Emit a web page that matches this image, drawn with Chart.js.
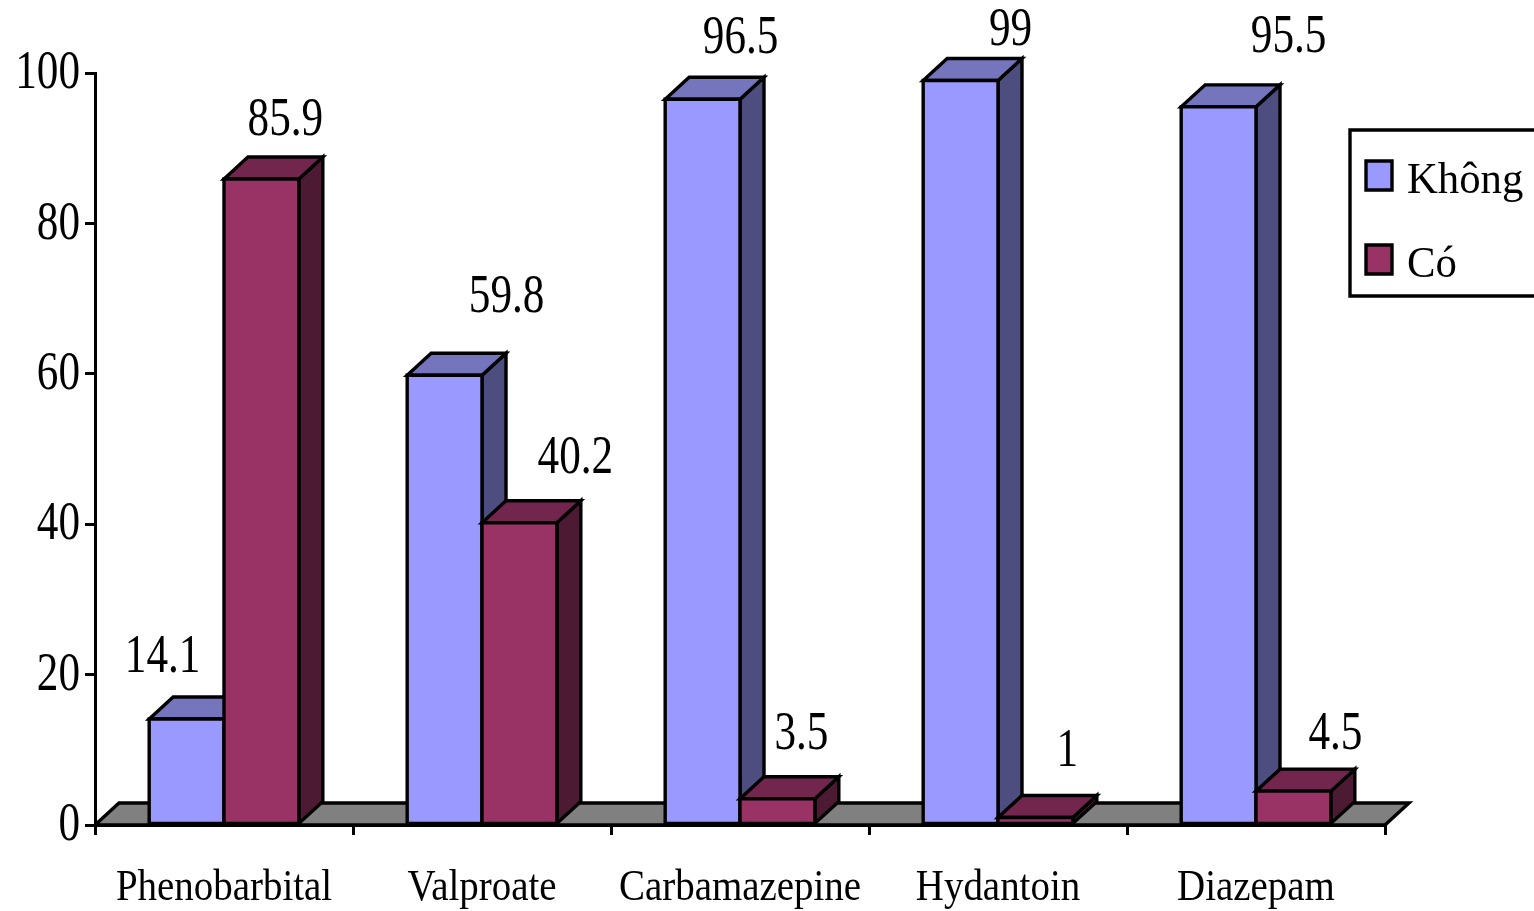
<!DOCTYPE html>
<html>
<head>
<meta charset="utf-8">
<title>Không / Có</title>
<script src="https://cdn.jsdelivr.net/npm/chart.js@4/dist/chart.umd.min.js"></script>
<style>
  html, body { margin: 0; padding: 0; background: #ffffff; }
  #wrap { width: 1534px; height: 911px; position: relative; overflow: hidden; }
</style>
</head>
<body>
<div id="wrap"><canvas id="chart" width="1534" height="911"></canvas></div>
<script>
// ---- data ----
const categories = ['Phenobarbital', 'Valproate', 'Carbamazepine', 'Hydantoin', 'Diazepam'];
const seriesNames = ['Không', 'Có'];
const khongValues = [14.1, 59.8, 96.5, 99, 95.5];
const coValues = [85.9, 40.2, 3.5, 1, 4.5];
const yTicks = [0, 20, 40, 60, 80, 100];

// ---- styling ----
const FONT = '"Liberation Serif", "Times New Roman", serif';
const DEPTH_X = 24;   // 3D depth offset (px) to the right
const DEPTH_Y = 22;   // 3D depth offset (px) upward
const EDGE = 3.4;     // outline width
const faceColors = [
  { front: '#9999ff', top: '#7575bd', side: '#4d4d80' },
  { front: '#993366', top: '#73264d', side: '#4d1a33' }
];
// narrow, tall lettering: font size and horizontal squeeze per text group
const TXT = {
  yTick:  { size: 54, sx: 0.80 },
  xTick:  { size: 45, sx: 0.865 },
  value:  { size: 54, sx: 0.80 },
  legend: { size: 45, sx: 0.95 }
};
// small per-label nudges (px) applied to the value labels
const labelShiftX = [[-48, 38, 14, 26, 46], [0, 32, 0, 8, 18]];
const labelShiftY = [[1, -15, 1, 12, -7], [4, -2, -2, -4, 6]];

function poly(ctx, pts, fill) {
  ctx.beginPath();
  ctx.moveTo(pts[0][0], pts[0][1]);
  for (let i = 1; i < pts.length; i++) ctx.lineTo(pts[i][0], pts[i][1]);
  ctx.closePath();
  ctx.fillStyle = fill;
  ctx.fill();
  ctx.stroke();
}

function squeezedText(ctx, text, x, y, style, align, baseline) {
  ctx.save();
  ctx.translate(x, y);
  ctx.scale(style.sx, 1);
  ctx.font = style.size + 'px ' + FONT;
  ctx.fillStyle = '#000';
  ctx.textAlign = align;
  ctx.textBaseline = baseline;
  ctx.fillText(text, 0, 0);
  ctx.restore();
}

// Draws the floor, the 3D bars (front, top and side faces), value labels, axis labels and legend
const bars3d = {
  id: 'bars3d',
  beforeDatasetDraw() { return false; },
  afterDatasetsDraw(chart) {
    const ctx = chart.ctx;
    const area = chart.chartArea;
    const yScale = chart.scales.y;
    const base = yScale.getPixelForValue(0);
    ctx.save();
    ctx.lineWidth = EDGE;
    ctx.strokeStyle = '#000';
    ctx.lineJoin = 'miter';

    // floor
    poly(ctx, [
      [area.left, base], [area.right, base],
      [area.right + DEPTH_X, base - DEPTH_Y], [area.left + DEPTH_X, base - DEPTH_Y]
    ], '#808080');

    const metas = chart.data.datasets.map((d, i) => chart.getDatasetMeta(i));
    for (let c = 0; c < categories.length; c++) {
      metas.forEach((meta, s) => {
        const el = meta.data[c];
        const p = el.getProps(['x', 'y', 'base', 'width'], true);
        const x0 = p.x - p.width / 2, x1 = p.x + p.width / 2;
        const yt = p.y, yb = p.base;
        const col = faceColors[s];
        // side face
        poly(ctx, [[x1, yb], [x1, yt], [x1 + DEPTH_X, yt - DEPTH_Y], [x1 + DEPTH_X, yb - DEPTH_Y]], col.side);
        // top face
        poly(ctx, [[x0, yt], [x1, yt], [x1 + DEPTH_X, yt - DEPTH_Y], [x0 + DEPTH_X, yt - DEPTH_Y]], col.top);
        // front face
        poly(ctx, [[x0, yb], [x0, yt], [x1, yt], [x1, yb]], col.front);
      });
    }

    // value labels
    metas.forEach((meta, s) => {
      const values = chart.data.datasets[s].data;
      meta.data.forEach((el, c) => {
        const p = el.getProps(['x', 'y'], true);
        const lx = p.x + DEPTH_X + labelShiftX[s][c];
        const ly = p.y - DEPTH_Y - 40 + labelShiftY[s][c];
        squeezedText(ctx, String(values[c]), lx, ly, TXT.value, 'center', 'middle');
      });
    });
    ctx.restore();
  },
  afterDraw(chart) {
    const ctx = chart.ctx;
    const xs = chart.scales.x, ys = chart.scales.y;

    // axis labels
    ys.ticks.forEach((t) => {
      squeezedText(ctx, String(t.value), ys.right - 15, ys.getPixelForValue(t.value) + 1, TXT.yTick, 'right', 'middle');
    });
    xs.ticks.forEach((t, i) => {
      squeezedText(ctx, xs.getLabelForValue(t.value), xs.getPixelForTick(i), chart.chartArea.bottom + 75, TXT.xTick, 'center', 'alphabetic');
    });

    // legend box
    ctx.save();
    ctx.lineWidth = EDGE;
    ctx.strokeStyle = '#000';
    ctx.fillStyle = '#fff';
    ctx.beginPath();
    ctx.rect(1350, 130, 200, 166);
    ctx.fill();
    ctx.stroke();
    const rows = [175, 259];
    chart.data.datasets.forEach((ds, s) => {
      const cy = rows[s];
      ctx.fillStyle = ds.backgroundColor;
      ctx.beginPath();
      ctx.rect(1366, cy - 14, 26, 29);
      ctx.fill();
      ctx.stroke();
      squeezedText(ctx, ds.label, 1407, cy + 18, TXT.legend, 'left', 'alphabetic');
    });
    ctx.restore();
  }
};

new Chart(document.getElementById('chart'), {
  type: 'bar',
  data: {
    labels: categories,
    datasets: [
      { label: seriesNames[0], data: khongValues, backgroundColor: faceColors[0].front },
      { label: seriesNames[1], data: coValues, backgroundColor: faceColors[1].front }
    ]
  },
  options: {
    responsive: false,
    devicePixelRatio: 1,
    animation: false,
    categoryPercentage: 0.58,
    barPercentage: 1.0,
    layout: { padding: { top: 73, right: 149, left: 0, bottom: 0 } },
    plugins: { legend: { display: false }, tooltip: { enabled: false } },
    scales: {
      x: {
        offset: true,
        grid: { offset: true, drawOnChartArea: false, drawTicks: true, tickLength: 10, color: '#000', lineWidth: 3 },
        border: { display: true, color: '#000', width: 3 },
        ticks: { display: false, autoSkip: false, maxRotation: 0 },
        afterFit: (s) => { s.height = 86; }
      },
      y: {
        min: 0,
        max: 100,
        afterBuildTicks: (s) => { s.ticks = yTicks.map(v => ({ value: v })); },
        grid: { drawOnChartArea: false, drawTicks: true, tickLength: 10, color: '#000', lineWidth: 3 },
        border: { display: true, color: '#000', width: 3 },
        ticks: { display: false },
        afterFit: (s) => { s.width = 95; }
      }
    }
  },
  plugins: [bars3d]
});
</script>
</body>
</html>
